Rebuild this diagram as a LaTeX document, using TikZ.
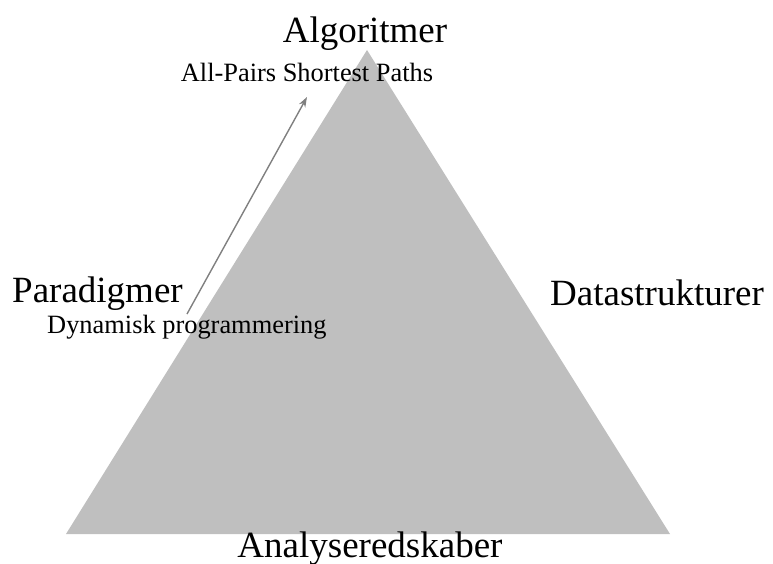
\documentclass[tikz,border=0pt]{standalone}
\usepackage{fontspec}
\setmainfont{Liberation Serif}
\usetikzlibrary{arrows.meta}
\begin{document}
\begin{tikzpicture}[x=1pt,y=-1pt,
  big/.style={inner sep=0pt,font=\fontsize{37}{40}\selectfont},
  small/.style={inner sep=0pt,font=\fontsize{26.4}{30}\selectfont},
  arr/.style={draw=gray,line width=1.4pt,-{Stealth[length=10pt,width=7pt,inset=3pt]}}]
\useasboundingbox (0,0) rectangle (773,564);
\coordinate (top) at (367,50);
\coordinate (bl) at (66,534);
\coordinate (br) at (670,534);
\fill[fill={rgb,255:red,191;green,191;blue,191}] (top) -- (bl) -- (br) -- cycle;
\node[big,anchor=base] (alg) at (365,43) {Algoritmer};
\node[small,anchor=base] (apsp) at (307,82) {All-Pairs Shortest Paths};
\node[big,anchor=base west] (par) at (12,302) {Paradigmer};
\node[small,anchor=base west] (dyn) at (47,333) {Dynamisk programmering};
\node[big,anchor=base west] (ds) at (550,305) {Datastrukturer};
\node[big,anchor=base] (ana) at (370,557) {Analyseredskaber};
\coordinate (a1) at (187,314);
\coordinate (a2) at (307,97);
\draw[arr] (a1) -- (a2);
\end{tikzpicture}
\end{document}
